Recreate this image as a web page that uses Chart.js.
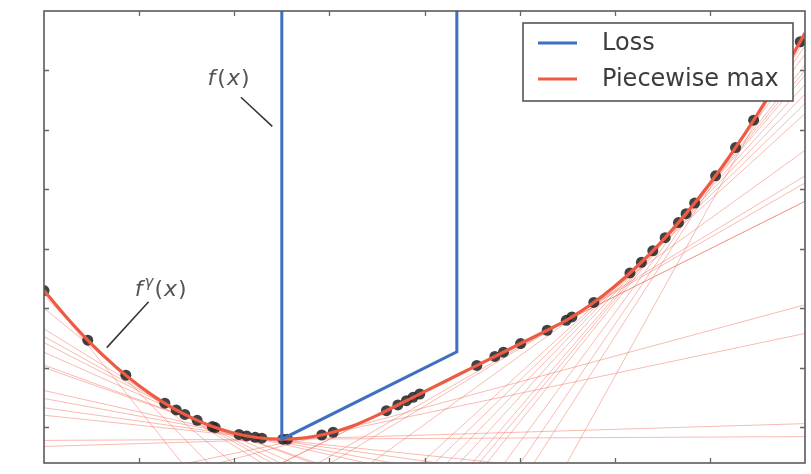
<!DOCTYPE html>
<html>
<head>
<meta charset="utf-8">
<script src="https://cdn.jsdelivr.net/npm/chart.js@4/dist/chart.umd.min.js"></script>
<style>
  html, body { margin: 0; padding: 0; background: #ffffff; }
  #c { display: block; }
</style>
</head>
<body>
<canvas id="c" width="811" height="474"></canvas>
<script>
// ---------------- data ----------------
const xRange = [0, 8];
const yRange = [-0.6, 7];
const xTicks = [1, 2, 3, 4, 5, 6, 7];
const yTicks = [0, 1, 2, 3, 4, 5, 6];

// Loss f(x): infinite outside an interval, linear inside
const lossX = [2.5, 2.5, 4.34, 4.34];
const lossY = [7.5, -0.2, 1.27, 7.5];

// Smooth envelope f^gamma(x) ("Piecewise max")
const curveX = [0, 0.25, 0.5, 0.75, 1.0, 1.25, 1.5, 1.75, 2.0, 2.25, 2.5, 2.75, 3.0, 3.25, 3.5,
                3.75, 4.0, 4.25, 4.5, 4.75, 5.0, 5.25, 5.34, 5.5, 5.75, 6.0, 6.25, 6.5, 6.75,
                7.0, 7.25, 7.5, 7.75, 8.0];
const curveY = [2.30, 1.825, 1.40, 1.025, 0.70, 0.425, 0.20, 0.025, -0.10, -0.175, -0.20, -0.175, -0.10, 0.025, 0.20,
                0.40, 0.60, 0.80, 1.00, 1.20, 1.40, 1.60, 1.672, 1.808, 2.065, 2.372, 2.729, 3.136, 3.593,
                4.100, 4.657, 5.264, 5.921, 6.628];

// Sample points (dark dots)
const dotX = [0.00, 0.46, 0.86, 1.27, 1.39, 1.48, 1.61, 1.77, 1.80, 2.05, 2.13, 2.22, 2.29, 2.51, 2.56,
              2.92, 3.04, 3.60, 3.72, 3.81, 3.88, 3.95, 4.55, 4.74, 4.83, 5.01, 5.29, 5.49, 5.55, 5.78,
              6.16, 6.28, 6.40, 6.53, 6.67, 6.75, 6.84, 7.06, 7.27, 7.46, 7.95];
const dotY = [2.30, 1.465, 0.876, 0.405, 0.293, 0.216, 0.117, 0.013, -0.004, -0.119, -0.145, -0.169, -0.182, -0.200, -0.199,
              -0.129, -0.083, 0.280, 0.376, 0.448, 0.504, 0.560, 1.040, 1.192, 1.264, 1.408, 1.632, 1.799, 1.856, 2.099,
              2.595, 2.775, 2.967, 3.188, 3.442, 3.593, 3.770, 4.229, 4.704, 5.164, 6.483];

// Thin lines (tangent pieces): slope and intercept of each
const lineSlopes = [-2.0, -1.632, -1.312, -0.984, -0.888, -0.816, -0.712, -0.584, -0.56, -0.36, -0.296, -0.224, -0.168,
                    0.008, 0.048, 0.336, 0.432, 0.8, 0.8, 0.92, 0.968, 1.152, 1.456, 1.552, 1.648, 1.752, 1.864,
                    1.928, 2.0, 2.176, 2.344, 2.496, 2.888];
const lineIntercepts = [2.3, 2.216, 2.004, 1.655, 1.527, 1.424, 1.263, 1.047, 1.004, 0.619, 0.485, 0.328, 0.203,
                        -0.22, -0.322, -1.110, -1.396, -2.6, -2.6, -3.252, -3.516, -4.560, -6.374, -6.972, -7.580, -8.253, -8.991,
                        -9.421, -9.91, -11.134, -12.337, -13.456, -16.477];

// Annotations (data units)
const labelF = { x: 1.72, y: 5.75, lineFrom: [2.07, 5.55], lineTo: [2.40, 5.06] };
const labelFg = { x: 0.955, y: 2.21, lineFrom: [1.10, 2.11], lineTo: [0.66, 1.34] };

const seriesNames = ['Loss', 'Piecewise max'];

// ---------------- styles ----------------
const BLUE = '#3f6fbf';
const RED = '#ee5a43';
const THIN = 'rgba(240,105,85,0.45)';
const DOT = 'rgba(40,40,40,0.88)';
const FRAME = '#5a5a5a';
const TEXT = '#3c3c3c';

const pts = (xs, ys) => xs.map((x, i) => ({ x: x, y: ys[i] }));

const datasets = [];
datasets.push({ label: seriesNames[0], data: pts(lossX, lossY), showLine: true, borderColor: BLUE,
  backgroundColor: BLUE, borderWidth: 3, pointRadius: 0, tension: 0 });
datasets.push({ label: seriesNames[1], data: pts(curveX, curveY), showLine: true, borderColor: RED,
  backgroundColor: RED, borderWidth: 3.2, pointRadius: 0, cubicInterpolationMode: 'monotone' });
datasets.push({ label: 'samples', data: pts(dotX, dotY), showLine: false, pointRadius: 5.5,
  pointBackgroundColor: DOT, pointBorderWidth: 0, pointBorderColor: DOT });
lineSlopes.forEach((m, i) => {
  const b = lineIntercepts[i];
  datasets.push({ label: 'piece' + i, data: [{ x: xRange[0], y: b + m * xRange[0] }, { x: xRange[1], y: b + m * xRange[1] }],
    showLine: true, borderColor: THIN, borderWidth: 1, pointRadius: 0 });
});

const decor = {
  id: 'decor',
  afterDatasetsDraw(chart) {
    const ctx = chart.ctx, a = chart.chartArea;
    const xs = chart.scales.x, ys = chart.scales.y;
    const px = v => xs.getPixelForValue(v), py = v => ys.getPixelForValue(v);
    ctx.save();
    // frame
    ctx.strokeStyle = FRAME; ctx.lineWidth = 1.6;
    ctx.strokeRect(a.left, a.top, a.right - a.left, a.bottom - a.top);
    // inward tick marks on all four sides
    ctx.lineWidth = 1.3; ctx.strokeStyle = '#666';
    const L = 5;
    ctx.beginPath();
    xTicks.forEach(t => {
      const x = Math.round(px(t)) + 0.5;
      ctx.moveTo(x, a.bottom); ctx.lineTo(x, a.bottom - L);
      ctx.moveTo(x, a.top); ctx.lineTo(x, a.top + L);
    });
    yTicks.forEach(t => {
      const y = Math.round(py(t)) + 0.5;
      ctx.moveTo(a.left, y); ctx.lineTo(a.left + L, y);
      ctx.moveTo(a.right, y); ctx.lineTo(a.right - L, y);
    });
    ctx.stroke();

    // annotation leader lines
    ctx.strokeStyle = '#333'; ctx.lineWidth = 1.5;
    [labelF, labelFg].forEach(l => {
      ctx.beginPath();
      ctx.moveTo(px(l.lineFrom[0]), py(l.lineFrom[1]));
      ctx.lineTo(px(l.lineTo[0]), py(l.lineTo[1]));
      ctx.stroke();
    });
    // annotation texts
    ctx.fillStyle = '#555';
    ctx.textBaseline = 'alphabetic'; ctx.textAlign = 'left';
    const FS = 22;
    const drawMath = (l, sup) => {
      let x = px(l.x); const y = py(l.y);
      ctx.font = 'italic ' + FS + 'px "DejaVu Sans"';
      ctx.fillText('f', x, y); x += ctx.measureText('f').width + 2;
      if (sup) {
        ctx.font = 'italic 15px "DejaVu Sans"';
        ctx.fillText(sup, x, y - 9); x += ctx.measureText(sup).width + 1;
      }
      ctx.font = FS + 'px "DejaVu Sans"';
      ctx.fillText('(', x, y); x += ctx.measureText('(').width + 1;
      ctx.font = 'italic ' + FS + 'px "DejaVu Sans"';
      ctx.fillText('x', x, y); x += ctx.measureText('x').width + 1;
      ctx.font = FS + 'px "DejaVu Sans"';
      ctx.fillText(')', x, y);
    };
    drawMath(labelF, null);
    drawMath(labelFg, 'γ');
    ctx.restore();
  },
  afterDraw(chart) {
    const ctx = chart.ctx, a = chart.chartArea;
    ctx.save();
    // legend box in upper right of the plot
    const bw = 270, bh = 78;
    const bx = a.right - 12 - bw, by = a.top + 12;
    ctx.fillStyle = '#ffffff';
    ctx.fillRect(bx, by, bw, bh);
    ctx.strokeStyle = '#555'; ctx.lineWidth = 1.6;
    ctx.strokeRect(bx, by, bw, bh);
    const items = [chart.data.datasets[0], chart.data.datasets[1]];
    ctx.font = '24px "DejaVu Sans"';
    ctx.textBaseline = 'middle'; ctx.textAlign = 'left';
    items.forEach((d, i) => {
      const cy = by + 20 + i * 36;
      ctx.strokeStyle = d.borderColor; ctx.lineWidth = 3;
      ctx.beginPath(); ctx.moveTo(bx + 15, cy); ctx.lineTo(bx + 54, cy); ctx.stroke();
      ctx.fillStyle = TEXT;
      ctx.fillText(d.label, bx + 79, cy + 1);
    });
    ctx.restore();
  }
};

new Chart(document.getElementById('c'), {
  type: 'scatter',
  data: { datasets: datasets },
  options: {
    responsive: false,
    animation: false,
    devicePixelRatio: 1,
    layout: { padding: { left: 44, right: 6, top: 11, bottom: 11 } },
    plugins: { legend: { display: false }, tooltip: { enabled: false } },
    scales: {
      x: { type: 'linear', min: xRange[0], max: xRange[1], display: false },
      y: { type: 'linear', min: yRange[0], max: yRange[1], display: false }
    }
  },
  plugins: [decor]
});
</script>
</body>
</html>
